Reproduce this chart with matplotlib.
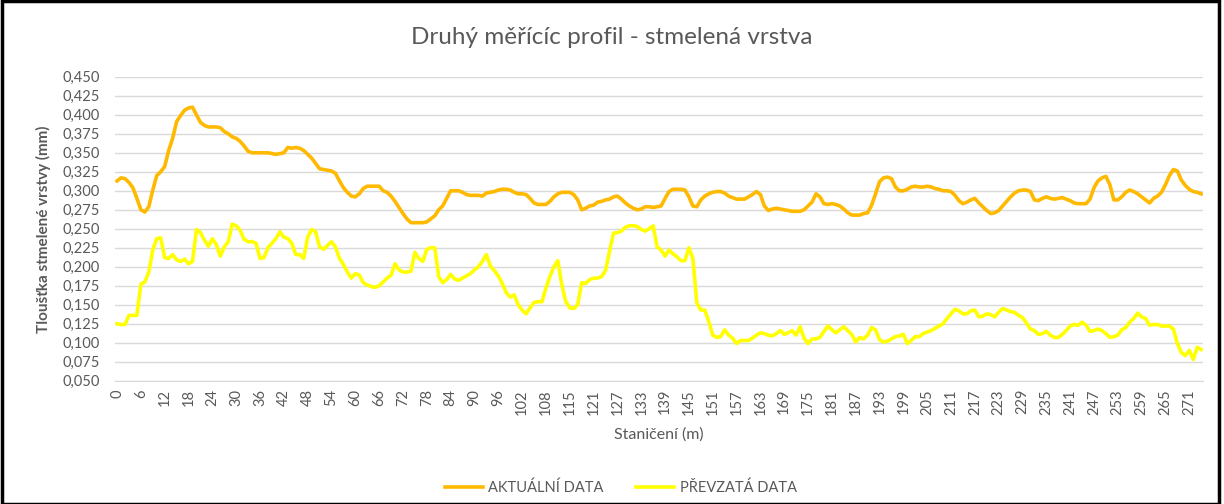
"""
Layer thickness along the second measuring profile: current survey
against the previously recorded values, drawn as an Excel-style line
chart with category stations on the x axis.
"""

import matplotlib
matplotlib.use("Agg")
import matplotlib.pyplot as plt
from matplotlib.patches import Rectangle

# stations in metres (one station between 108 and 115 was not measured)
stations = list(range(0, 109)) + list(range(110, 275))

aktualni = [
    0.313, 0.317, 0.316, 0.311, 0.304, 0.290, 0.275, 0.272, 0.279, 0.301,
    0.320, 0.325, 0.332, 0.353, 0.369, 0.391, 0.399, 0.406, 0.409, 0.410,
    0.400, 0.390, 0.386, 0.384, 0.384, 0.384, 0.383, 0.378, 0.375, 0.371,
    0.369, 0.365, 0.359, 0.352, 0.350, 0.350, 0.350, 0.350, 0.350, 0.349,
    0.348, 0.349, 0.350, 0.357, 0.356, 0.357, 0.356, 0.353, 0.348, 0.343,
    0.336, 0.329, 0.328, 0.327, 0.326, 0.323, 0.313, 0.304, 0.298, 0.293,
    0.292, 0.296, 0.303, 0.306, 0.306, 0.306, 0.306, 0.300, 0.298, 0.293,
    0.286, 0.278, 0.270, 0.263, 0.258, 0.258, 0.258, 0.258, 0.259, 0.263,
    0.267, 0.275, 0.280, 0.290, 0.300, 0.300, 0.300, 0.298, 0.295, 0.294,
    0.294, 0.294, 0.293, 0.297, 0.298, 0.299, 0.301, 0.302, 0.302, 0.301,
    0.298, 0.296, 0.296, 0.295, 0.290, 0.284, 0.282, 0.282, 0.282, 0.286,
    0.292, 0.296, 0.298, 0.298, 0.298, 0.295, 0.288, 0.275, 0.277, 0.280,
    0.281, 0.285, 0.286, 0.288, 0.289, 0.292, 0.293, 0.289, 0.284, 0.280,
    0.277, 0.275, 0.276, 0.279, 0.279, 0.278, 0.279, 0.280, 0.290, 0.299,
    0.302, 0.302, 0.302, 0.301, 0.292, 0.280, 0.279, 0.288, 0.293, 0.296,
    0.298, 0.299, 0.299, 0.297, 0.293, 0.291, 0.289, 0.289, 0.289, 0.292,
    0.295, 0.299, 0.295, 0.280, 0.274, 0.276, 0.277, 0.276, 0.275, 0.274,
    0.273, 0.273, 0.273, 0.275, 0.280, 0.285, 0.296, 0.292, 0.283, 0.282,
    0.283, 0.282, 0.280, 0.276, 0.271, 0.268, 0.268, 0.268, 0.270, 0.271,
    0.281, 0.296, 0.312, 0.317, 0.318, 0.316, 0.305, 0.300, 0.300, 0.302,
    0.305, 0.306, 0.305, 0.305, 0.306, 0.305, 0.303, 0.302, 0.300, 0.300,
    0.299, 0.294, 0.287, 0.283, 0.285, 0.288, 0.290, 0.284, 0.279, 0.274,
    0.270, 0.271, 0.274, 0.280, 0.286, 0.292, 0.297, 0.300, 0.301, 0.301,
    0.299, 0.288, 0.287, 0.290, 0.292, 0.290, 0.289, 0.290, 0.291, 0.289,
    0.287, 0.284, 0.283, 0.283, 0.283, 0.289, 0.304, 0.313, 0.317, 0.319,
    0.308, 0.288, 0.288, 0.292, 0.298, 0.301, 0.299, 0.296, 0.292, 0.288,
    0.284, 0.290, 0.293, 0.298, 0.308, 0.320, 0.328, 0.326, 0.314, 0.307,
    0.302, 0.299, 0.298, 0.296,
]

prevzata = [
    0.125, 0.124, 0.124, 0.136, 0.136, 0.136, 0.177, 0.180, 0.193, 0.222,
    0.237, 0.238, 0.212, 0.211, 0.216, 0.209, 0.207, 0.210, 0.204, 0.207,
    0.249, 0.245, 0.235, 0.227, 0.237, 0.229, 0.214, 0.226, 0.233, 0.256,
    0.254, 0.248, 0.236, 0.233, 0.233, 0.231, 0.211, 0.212, 0.225, 0.231,
    0.237, 0.246, 0.239, 0.237, 0.231, 0.216, 0.216, 0.211, 0.239, 0.249,
    0.246, 0.226, 0.223, 0.228, 0.233, 0.226, 0.211, 0.203, 0.193, 0.185,
    0.191, 0.189, 0.179, 0.176, 0.174, 0.173, 0.175, 0.180, 0.185, 0.189,
    0.204, 0.196, 0.193, 0.193, 0.194, 0.219, 0.211, 0.207, 0.223, 0.225,
    0.225, 0.187, 0.179, 0.183, 0.190, 0.184, 0.182, 0.185, 0.188, 0.191,
    0.196, 0.200, 0.207, 0.216, 0.201, 0.195, 0.188, 0.178, 0.166, 0.160,
    0.163, 0.150, 0.143, 0.138, 0.146, 0.153, 0.154, 0.154, 0.172, 0.187,
    0.200, 0.208, 0.176, 0.154, 0.146, 0.145, 0.150, 0.179, 0.178, 0.183,
    0.185, 0.185, 0.187, 0.195, 0.220, 0.244, 0.245, 0.247, 0.252, 0.254,
    0.254, 0.253, 0.249, 0.247, 0.250, 0.254, 0.226, 0.222, 0.214, 0.222,
    0.217, 0.213, 0.208, 0.208, 0.225, 0.211, 0.152, 0.143, 0.143, 0.128,
    0.110, 0.107, 0.108, 0.117, 0.110, 0.106, 0.099, 0.103, 0.103, 0.103,
    0.106, 0.110, 0.113, 0.112, 0.110, 0.109, 0.112, 0.116, 0.111, 0.113,
    0.116, 0.110, 0.121, 0.106, 0.099, 0.105, 0.105, 0.107, 0.115, 0.122,
    0.117, 0.113, 0.117, 0.121, 0.116, 0.111, 0.101, 0.107, 0.105, 0.110,
    0.120, 0.117, 0.104, 0.101, 0.102, 0.105, 0.108, 0.109, 0.111, 0.099,
    0.103, 0.108, 0.108, 0.112, 0.114, 0.116, 0.119, 0.122, 0.125, 0.132,
    0.138, 0.144, 0.142, 0.138, 0.138, 0.142, 0.143, 0.134, 0.135, 0.138,
    0.137, 0.134, 0.140, 0.145, 0.143, 0.141, 0.140, 0.136, 0.133, 0.126,
    0.118, 0.116, 0.111, 0.112, 0.115, 0.110, 0.107, 0.107, 0.111, 0.116,
    0.122, 0.124, 0.123, 0.127, 0.123, 0.115, 0.116, 0.118, 0.116, 0.112,
    0.107, 0.108, 0.110, 0.117, 0.120, 0.127, 0.132, 0.139, 0.134, 0.132,
    0.123, 0.124, 0.124, 0.122, 0.122, 0.122, 0.118, 0.099, 0.087, 0.083,
    0.090, 0.078, 0.094, 0.091,
]

y_ticks = [0.050, 0.075, 0.100, 0.125, 0.150, 0.175, 0.200, 0.225,
           0.250, 0.275, 0.300, 0.325, 0.350, 0.375, 0.400, 0.425, 0.450]

TEXT = "#595959"
GRID = "#D9D9D9"
plt.rcParams["font.family"] = ["Lato", "DejaVu Sans"]

fig = plt.figure(figsize=(12.24, 5.04), dpi=100)
ax = fig.add_axes([0.094, 0.2446, 0.889, 0.603])

x = list(range(len(stations)))
ax.plot(x, aktualni, color="#FFB900", lw=2.6, solid_joinstyle="round",
        label="AKTUÁLNÍ DATA", zorder=3)
ax.plot(x, prevzata, color="#FFFF00", lw=2.6, solid_joinstyle="round",
        label="PŘEVZATÁ DATA", zorder=3)

ax.set_xlim(-0.5, len(stations) - 0.5)
ax.set_ylim(0.05, 0.45)
ax.set_yticks(y_ticks)
ax.set_yticklabels([f"{v:.3f}".replace(".", ",") for v in y_ticks])
ax.set_xticks(x[::6])
ax.set_xticklabels([str(s) for s in stations[::6]], rotation=90)
ax.tick_params(axis="both", length=0, colors=TEXT, labelsize=10.5)
ax.tick_params(axis="x", pad=6)
ax.tick_params(axis="y", pad=11)
ax.grid(axis="y", color=GRID, lw=1.0)
ax.set_axisbelow(True)
for side in ("left", "right", "top"):
    ax.spines[side].set_visible(False)
ax.spines["bottom"].set_color(GRID)

ax.set_ylabel("Tloušťka stmelené vrstvy (mm)", color=TEXT, fontsize=11,
              fontweight="bold", labelpad=8)
ax.set_xlabel("Staničení (m)", color=TEXT, fontsize=11.5, labelpad=9)
fig.text(0.5, 0.925, "Druhý měřícíc profil - stmelená vrstva", ha="center",
         va="center", color=TEXT, fontsize=17.5)

fig.legend(loc="center", bbox_to_anchor=(0.507, 0.032), ncol=2,
           frameon=False, fontsize=10.5, labelcolor=TEXT, handlelength=2.6,
           columnspacing=2.2, handletextpad=0.4)

# thin black frame round the chart object
fig.patches.append(Rectangle((0.002, 0.0), 0.994, 0.998, transform=fig.transFigure,
                             fill=False, edgecolor="black", lw=2.5))

fig.savefig("out.png", dpi=100)
